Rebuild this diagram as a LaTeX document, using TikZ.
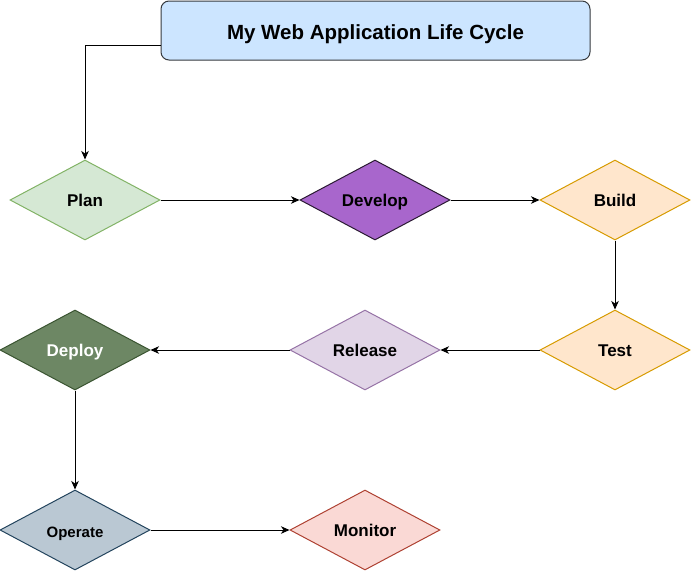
\documentclass[tikz,border=0pt]{standalone}
\usepackage{fontspec}
\setmainfont{Liberation Sans}
\usetikzlibrary{shapes.geometric,arrows.meta}
\definecolor{titlefill}{HTML}{CCE5FF}
\definecolor{titledraw}{HTML}{36393D}
\definecolor{planfill}{HTML}{D5E8D4}
\definecolor{plandraw}{HTML}{82B366}
\definecolor{devfill}{HTML}{A866CC}
\definecolor{devdraw}{HTML}{2B1A33}
\definecolor{orfill}{HTML}{FFE6CC}
\definecolor{ordraw}{HTML}{D79B00}
\definecolor{relfill}{HTML}{E1D5E7}
\definecolor{reldraw}{HTML}{9673A6}
\definecolor{depfill}{HTML}{6D8764}
\definecolor{depdraw}{HTML}{3A5431}
\definecolor{opfill}{HTML}{BAC8D3}
\definecolor{opdraw}{HTML}{23445D}
\definecolor{monfill}{HTML}{FAD9D5}
\definecolor{mondraw}{HTML}{AE4132}
\begin{document}
\begin{tikzpicture}[x=1pt,y=-1pt,
  stage/.style={diamond,aspect=1.875,inner sep=0pt,minimum width=150pt,minimum height=80pt,
    line width=1pt,font=\fontsize{17}{20}\selectfont\bfseries,text height=12.2pt,text depth=0pt},
  arr/.style={line width=1pt,-{Stealth[length=8.5pt,width=7.5pt,inset=2.5pt]}},
  titlebox/.style={rectangle,rounded corners=8pt,minimum width=429pt,minimum height=59pt,
    line width=1pt,fill=titlefill,draw=titledraw,font=\fontsize{20.5}{24}\selectfont\bfseries,
    text height=18pt,text depth=0pt}
]
\useasboundingbox (0,0) rectangle (691,571);
\node[titlebox] (title) at (375.5,30.5) {My Web Application Life Cycle};
\node[stage,fill=planfill,draw=plandraw] (plan) at (85,200) {Plan};
\node[stage,fill=devfill,draw=devdraw] (develop) at (375,200) {Develop};
\node[stage,fill=orfill,draw=ordraw] (build) at (615,200) {Build};
\node[stage,fill=orfill,draw=ordraw] (test) at (615,350) {Test};
\node[stage,fill=relfill,draw=reldraw] (release) at (365,350) {Release};
\node[stage,fill=depfill,draw=depdraw,text=white] (deploy) at (75,350) {Deploy};
\node[stage,fill=opfill,draw=opdraw,font=\fontsize{15}{18}\selectfont\bfseries,text height=14pt] (operate) at (75,530) {Operate};
\node[stage,fill=monfill,draw=mondraw] (monitor) at (365,530) {Monitor};
\draw[arr] ([yshift=-14.5pt]title.west) -| (plan.north);
\draw[arr] (plan.east) -- (develop.west);
\draw[arr] (develop.east) -- (build.west);
\draw[arr] (build.south) -- (test.north);
\draw[arr] (test.west) -- (release.east);
\draw[arr] (release.west) -- (deploy.east);
\draw[arr] (deploy.south) -- (operate.north);
\draw[arr] (operate.east) -- (monitor.west);
\end{tikzpicture}
\end{document}
